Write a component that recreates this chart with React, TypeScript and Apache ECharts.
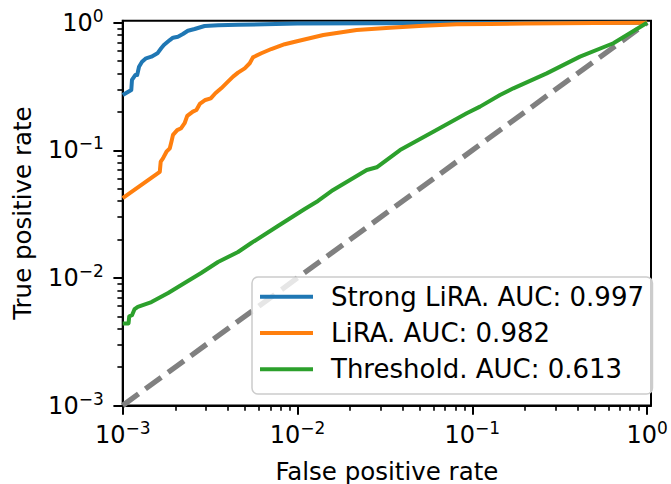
import React, { useEffect, useRef } from "react";
import * as echarts from "echarts";

const FONT = "DejaVu Sans";

// Strong LiRA ROC curve
const strongFpr = [0.001, 0.00112, 0.00113, 0.00118, 0.00121, 0.00124, 0.00129, 0.00136, 0.00146, 0.00158, 0.00166, 0.00172, 0.00186, 0.00194, 0.00207, 0.00221, 0.00236, 0.00258, 0.00294, 0.00351, 0.00457, 0.01, 0.03, 0.1, 0.3, 1];
const strongTpr = [0.271, 0.297, 0.356, 0.389, 0.389, 0.452, 0.494, 0.526, 0.542, 0.575, 0.63, 0.668, 0.731, 0.763, 0.777, 0.815, 0.865, 0.893, 0.942, 0.955, 0.962, 0.985, 0.992, 0.995, 0.998, 1];

// LiRA ROC curve
const liraFpr = [0.001, 0.00163, 0.00165, 0.0017, 0.00178, 0.00186, 0.0019, 0.00194, 0.00205, 0.00216, 0.00226, 0.00234, 0.00252, 0.00264, 0.00276, 0.00297, 0.00319, 0.00339, 0.00366, 0.004, 0.00428, 0.00457, 0.00499, 0.00533, 0.00556, 0.00621, 0.00708, 0.00845, 0.01007, 0.01405, 0.0218, 0.0338, 0.0525, 0.0815, 0.126, 0.2, 0.5, 1];
const liraTpr = [0.0421, 0.0679, 0.0815, 0.0865, 0.0975, 0.1037, 0.1168, 0.132, 0.144, 0.149, 0.163, 0.186, 0.201, 0.207, 0.231, 0.248, 0.255, 0.28, 0.306, 0.345, 0.378, 0.406, 0.439, 0.481, 0.535, 0.576, 0.622, 0.678, 0.719, 0.801, 0.877, 0.914, 0.948, 0.972, 0.978, 0.985, 0.995, 1];

// Threshold ROC curve
const threshFpr = [0.001, 0.00108, 0.00109, 0.00113, 0.00117, 0.00122, 0.00146, 0.00182, 0.00226, 0.00281, 0.00351, 0.00457, 0.00544, 0.00773, 0.011, 0.0131, 0.016, 0.0249, 0.0284, 0.0386, 0.0598, 0.0929, 0.1107, 0.144, 0.1717, 0.2665, 0.413, 0.641, 1];
const threshTpr = [0.0044, 0.0044, 0.005, 0.0051, 0.0057, 0.00594, 0.00647, 0.00761, 0.00912, 0.01093, 0.01333, 0.01596, 0.01877, 0.0255, 0.0347, 0.0401, 0.0489, 0.0701, 0.0736, 0.1005, 0.14, 0.195, 0.22, 0.271, 0.306, 0.401, 0.542, 0.69, 1];

// Chance diagonal
const diagFpr = [0.001, 1];
const diagTpr = [0.001, 1];

const seriesNames = ["Strong LiRA. AUC: 0.997", "LiRA. AUC: 0.982", "Threshold. AUC: 0.613"];
const seriesColors = ["#1f77b4", "#ff7f0e", "#2ca02c"];

const majorTicks = [0.001, 0.01, 0.1, 1];
const minorMultipliers = [2, 3, 4, 5, 6, 7, 8, 9];
const minorTicks = majorTicks
  .slice(0, 3)
  .flatMap((d) => minorMultipliers.map((m) => +(d * m).toPrecision(3)));

const xMin = 0.001;
const xMax = 1.0527;
const yMin = 0.001;
const yMax = 1.0368;

const zip = (a: number[], b: number[]) => a.map((v, i) => [v, b[i]]);

const expLabel = (v: number) => {
  const n = Math.round(Math.log10(v));
  const s = n === 0 ? "0" : "\u2212" + Math.abs(n);
  return `{b|10}{s|${s}}`;
};

const rich = {
  b: { fontFamily: FONT, fontSize: 24, lineHeight: 31, color: "#000" },
  s: { fontFamily: FONT, fontSize: 17, lineHeight: 16, verticalAlign: "top", color: "#000" },
};

const majorAxis = (extra: any) => ({
  type: "log",
  logBase: 10,
  axisLine: { show: true, onZero: false, lineStyle: { color: "#000", width: 2 } },
  axisTick: { show: true, inside: false, length: 9.3, lineStyle: { color: "#000", width: 2 }, customValues: majorTicks },
  splitLine: { show: false },
  minorTick: { show: false },
  minorSplitLine: { show: false },
  nameLocation: "middle",
  nameTextStyle: { fontFamily: FONT, fontSize: 24.5, lineHeight: 24, color: "#000" },
  ...extra,
});

const minorAxis = (extra: any) => ({
  type: "log",
  logBase: 10,
  axisLine: { show: false },
  axisTick: { show: true, inside: false, length: 5.3, lineStyle: { color: "#000", width: 1.6 }, customValues: minorTicks },
  axisLabel: { show: false },
  splitLine: { show: false },
  minorTick: { show: false },
  ...extra,
});

const option: any = {
  animation: false,
  backgroundColor: "#fff",
  textStyle: { fontFamily: FONT },
  grid: {
    left: 122.7,
    top: 20.7,
    right: 20,
    bottom: 78.5,
    show: true,
    borderColor: "#000",
    borderWidth: 2,
    backgroundColor: "transparent",
    containLabel: false,
    outerBoundsMode: "none",
  },
  xAxis: [
    majorAxis({
      min: xMin,
      max: xMax,
      position: "bottom",
      name: "False positive rate",
      nameGap: 53.5,
      axisLabel: { show: true, customValues: majorTicks, margin: 14.3, formatter: expLabel, rich },
    }),
    minorAxis({ min: xMin, max: xMax, position: "bottom" }),
  ],
  yAxis: [
    majorAxis({
      min: yMin,
      max: yMax,
      position: "left",
      name: "True positive rate",
      nameGap: 88,
      axisLabel: { show: true, customValues: majorTicks, margin: 19, formatter: expLabel, rich },
    }),
    minorAxis({ min: yMin, max: yMax, position: "left" }),
  ],
  legend: {
    data: seriesNames,
    orient: "vertical",
    left: 252,
    top: 277,
    icon: "rect",
    itemWidth: 53,
    itemHeight: 4,
    itemGap: 10.3,
    padding: [6.7, 8.5, 11.7, 8],
    backgroundColor: "rgba(255,255,255,0.8)",
    borderColor: "#cccccc",
    borderWidth: 1.5,
    borderRadius: 6,
    selectedMode: false,
    itemStyle: { borderWidth: 0 },
    textStyle: { fontFamily: FONT, fontSize: 26, lineHeight: 26, color: "#000", padding: [0, 0, 0, 13] },
  },
  series: [
    {
      name: "chance",
      type: "line",
      data: zip(diagFpr, diagTpr),
      showSymbol: false,
      symbol: "none",
      lineStyle: { color: "#808080", width: 5.3, type: [19.6, 8.5] },
      itemStyle: { color: "#808080" },
      z: 1,
    },
    ...[zip(strongFpr, strongTpr), zip(liraFpr, liraTpr), zip(threshFpr, threshTpr)].map((d, i) => ({
      name: seriesNames[i],
      type: "line",
      data: d,
      showSymbol: false,
      symbol: "none",
      color: seriesColors[i],
      lineStyle: { color: seriesColors[i], width: 4, join: "round" },
      itemStyle: { color: seriesColors[i] },
      z: 2 + i,
    })),
  ],
};

export default function App() {
  const ref = useRef<HTMLDivElement>(null);
  useEffect(() => {
    const chart = echarts.init(ref.current!, null, { renderer: "svg" });
    chart.setOption(option);
    return () => chart.dispose();
  }, []);
  return (
    <div
      ref={ref}
      style={{ position: "fixed", left: 0, top: 0, width: 671, height: 484, background: "#fff" }}
    />
  );
}
